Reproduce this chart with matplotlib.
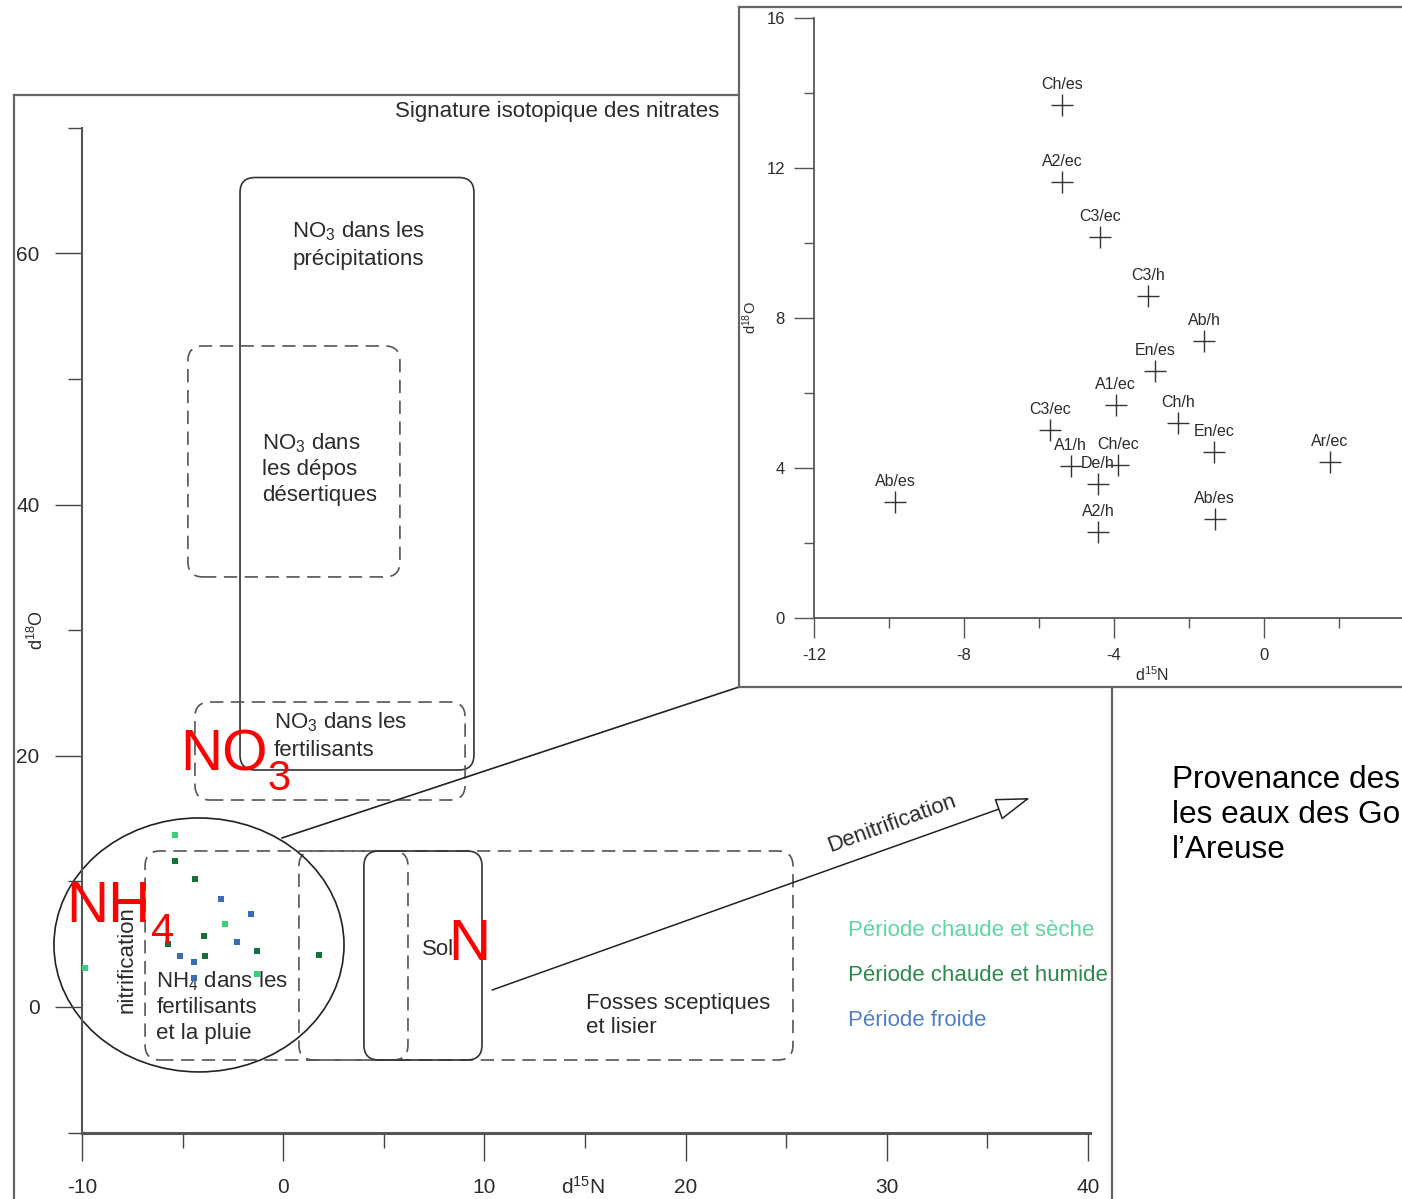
import matplotlib
matplotlib.use("Agg")
import matplotlib.pyplot as plt
from matplotlib.patches import FancyBboxPatch, Ellipse

plt.rcParams["font.family"] = ["Liberation Sans", "DejaVu Sans"]
plt.rcParams["mathtext.default"] = "regular"

W, H = 1402, 1199
INK = "#2b2b2b"
FRAME = "#666666"

# samples: site/period, d15N, d18O
SAMPLES = ["Ch/es", "A2/ec", "C3/ec", "C3/h", "Ab/h", "En/es", "A1/ec", "Ch/h", "C3/ec",
           "A1/h", "Ch/ec", "De/h", "En/ec", "Ar/ec", "Ab/es", "Ab/es", "A2/h"]
D15N = [-5.39, -5.39, -4.37, -3.09, -1.60, -2.91, -3.95, -2.29, -5.71,
        -5.15, -3.89, -4.43, -1.33, 1.76, -9.84, -1.31, -4.43]
D18O = [13.68, 11.63, 10.16, 8.59, 7.39, 6.59, 5.68, 5.20, 5.01,
        4.05, 4.08, 3.57, 4.43, 4.16, 3.09, 2.64, 2.29]

PERIODS = ["es", "ec", "h"]
PERIOD_COLORS = {"es": "#33d37c", "ec": "#16703a", "h": "#3a6db5"}
LEGEND_LABELS = ["Période chaude et sèche", "Période chaude et humide", "Période froide"]
LEGEND_COLORS = ["#5fd6a0", "#2a8a4c", "#4f7fc0"]

# main diagram axes
X_MAJOR = [-10, 0, 10, 20, 30, 40]
X_MINOR = [-5, 5, 15, 25, 35]
Y_MAJOR = [0, 20, 40, 60]
Y_MINOR = [-10, 10, 30, 50, 70]
# inset axes
IX_MAJOR = [-12, -8, -4, 0]
IX_MINOR = [-10, -6, -2, 2]
IY_MAJOR = [0, 4, 8, 12, 16]
IY_MINOR = [2, 6, 10, 14]

# source fields: (x0, y0, x1, y1) in d15N / d18O units, solid outline?
FIELDS = [
    ((-2.15, 18.87, 9.48, 66.04), True),
    ((-4.74, 34.24, 5.80, 52.63), False),
    ((-4.39, 16.48, 9.04, 24.28), False),
    ((-6.87, -4.22, 6.20, 12.42), False),
    ((0.78, -4.22, 25.34, 12.42), False),
    ((4.01, -4.22, 9.88, 12.42), True),
]


def fig_rect(x0, y0, x1, y1):
    return [x0 / W, 1 - y1 / H, (x1 - x0) / W, (y1 - y0) / H]


fig = plt.figure(figsize=(W / 100, H / 100), dpi=100)

# ---------------- main diagram ----------------
frame = fig.add_axes(fig_rect(14, 95, 1112, 1210))
frame.set_xticks([]); frame.set_yticks([])
for sp in frame.spines.values():
    sp.set_color(FRAME); sp.set_linewidth(1.6)
frame.set_zorder(0)

ax = fig.add_axes(fig_rect(14, 95, 1112, 1210))
ax.set_zorder(1)
ax.patch.set_visible(False)
ax.set_xlim(-13.386, 41.2)
ax.set_ylim((1007 - 1210) / 12.56, 72.61)
ax.spines["top"].set_visible(False)
ax.spines["right"].set_visible(False)
ax.spines["left"].set_position(("data", -10))
ax.spines["left"].set_bounds(-10, 70)
ax.spines["bottom"].set_position(("data", -10))
ax.spines["bottom"].set_bounds(-10, 40.1)
ax.spines["left"].set_color("#555"); ax.spines["left"].set_linewidth(1.5)
ax.spines["bottom"].set_color("#555"); ax.spines["bottom"].set_linewidth(2.2)
ax.set_xticks(X_MAJOR)
ax.set_xticks(X_MINOR, minor=True)
ax.set_yticks(Y_MAJOR)
ax.set_yticks(Y_MINOR, minor=True)
ax.set_xticklabels([str(v) for v in X_MAJOR])
ax.set_yticklabels([str(v) for v in Y_MAJOR])
ax.tick_params(axis="x", which="major", direction="out", length=20, width=1, pad=13,
               labelsize=15, colors="#444", labelcolor=INK)
ax.tick_params(axis="x", which="minor", direction="out", length=10.5, width=1, colors="#444")
ax.tick_params(axis="y", which="major", direction="out", length=19.5, width=1, pad=11,
               labelsize=15, colors="#444", labelcolor=INK)
ax.tick_params(axis="y", which="minor", direction="out", length=10, width=1, colors="#444")

ax.text(14.9, -14.3, "d$^{15}$N", ha="center", va="center", fontsize=15, color=INK)
ax.text(-12.24, 30.0, "d$^{18}$O", ha="center", va="center", fontsize=13, color=INK,
        rotation=90)
ax.text(13.61, 71.3, "Signature isotopique des nitrates", ha="center", va="center",
        fontsize=16, color=INK)

for (x0, y0, x1, y1), solid in FIELDS:
    box = FancyBboxPatch((x0, y0), x1 - x0, y1 - y0,
                         boxstyle="round,pad=0,rounding_size=0.75",
                         mutation_aspect=1.6, fill=False,
                         ec="#333" if solid else "#555",
                         lw=1.2, ls="-" if solid else (0, (8, 4.5)))
    ax.add_patch(box)

ax.add_patch(Ellipse((-4.19, 4.94), 14.42, 20.22, fill=False, ec="#222", lw=1.2))

txt = dict(fontsize=16, color=INK, linespacing=1.38)
ax.text(3.72, 60.71, "NO$_3$ dans les\nprécipitations", ha="center", va="center", **txt)
ax.text(-1.06, 42.88, "NO$_3$ dans\nles dépos\ndésertiques", ha="left", va="center",
        fontsize=16, color=INK, linespacing=1.28)
ax.text(-0.46, 21.62, "NO$_3$ dans les\nfertilisants", ha="left", va="center", **txt)
ax.text(-6.32, 0.04, "NH$_4$ dans les\nfertilisants\net la pluie", ha="left", va="center",
        fontsize=16, color=INK, linespacing=1.28)
ax.text(-7.76, 3.74, "nitrification", ha="center", va="center", rotation=90,
        fontsize=16, color=INK)
ax.text(6.9, 4.54, "Sol", ha="left", va="center", fontsize=16, color=INK)
ax.text(15.05, -0.68, "Fosses sceptiques\net lisier", ha="left", va="center",
        fontsize=16, color=INK, linespacing=1.22)

for per in PERIODS:
    xs = [x for n, x in zip(SAMPLES, D15N) if n.split("/")[1] == per]
    ys = [y for n, y in zip(SAMPLES, D18O) if n.split("/")[1] == per]
    ax.scatter(xs, ys, marker="s", s=20, color=PERIOD_COLORS[per], lw=0, zorder=5)

for i, (lab, col) in enumerate(zip(LEGEND_LABELS, LEGEND_COLORS)):
    ax.text(28.08, 6.12 - 3.6 * i, lab, ha="left", va="center", fontsize=16, color=col)

# link from the sample cluster to the inset
ax.plot([-0.06, 22.66], [13.46, 25.48], color="#222", lw=1.2)

ax.annotate("", xy=(37.12, 16.64), xytext=(10.38, 1.35),
            arrowprops=dict(arrowstyle="-|>,head_length=1.1,head_width=0.36",
                            mutation_scale=20, fc="white", ec="#222", lw=1.1,
                            shrinkA=0, shrinkB=0))
ax.text(30.25, 14.63, "Denitrification", ha="center", va="center", rotation=20,
        rotation_mode="anchor", fontsize=16, color=INK)

red = dict(color="#ff0000", ha="left", va="baseline", clip_on=False, zorder=10)
ax.text(-5.1, 18.79, "NO", fontsize=42, **red)
ax.text(-0.8, 17.28, "3", fontsize=30, **red)
ax.text(-10.8, 6.77, "NH", fontsize=42, **red)
ax.text(-6.6, 5.10, "4", fontsize=30, **red)
ax.text(8.2, 3.74, "N", fontsize=42, **red)

fig.text(1172 / W, 1 - 815 / H, "Provenance des\nles eaux des Go\nl\u2019Areuse",
         ha="left", va="center", fontsize=22.7, color="black", linespacing=1.2)

# ---------------- inset: zoom on the samples ----------------
iframe = fig.add_axes(fig_rect(739, 7, 1420, 687))
iframe.set_zorder(3)
iframe.set_facecolor("white")
iframe.set_xticks([]); iframe.set_yticks([])
for sp in iframe.spines.values():
    sp.set_color(FRAME); sp.set_linewidth(1.6)

iax = fig.add_axes(fig_rect(739, 7, 1420, 687))
iax.set_zorder(4)
iax.patch.set_visible(False)
iax.set_xlim(-14.0, 4.16)
iax.set_ylim(-1.84, 16.29)
iax.spines["top"].set_visible(False)
iax.spines["right"].set_visible(False)
iax.spines["left"].set_position(("data", -12))
iax.spines["left"].set_bounds(0, 16)
iax.spines["bottom"].set_position(("data", 0))
iax.spines["bottom"].set_bounds(-12, 4.16)
for side in ("left", "bottom"):
    iax.spines[side].set_color("#555"); iax.spines[side].set_linewidth(1.3)
iax.set_xticks(IX_MAJOR)
iax.set_xticks(IX_MINOR, minor=True)
iax.set_yticks(IY_MAJOR)
iax.set_yticks(IY_MINOR, minor=True)
iax.set_xticklabels([str(v) for v in IX_MAJOR])
iax.set_yticklabels([str(v) for v in IY_MAJOR])
iax.tick_params(which="major", direction="out", length=14.4, width=1, labelsize=12,
                colors="#555", labelcolor=INK)
iax.tick_params(which="minor", direction="out", length=7.2, width=1, colors="#555")
iax.tick_params(axis="x", pad=7)
iax.tick_params(axis="y", pad=6.5)
iax.text(-2.99, -1.52, "d$^{15}$N", ha="center", va="center", fontsize=11.5, color=INK)
iax.text(-13.71, 8.0, "d$^{18}$O", ha="center", va="center", fontsize=10.5, color=INK,
         rotation=90)

iax.plot(D15N, D18O, linestyle="none", marker="+", ms=16, mew=1, color="#333")
for name, x, y in zip(SAMPLES, D15N, D18O):
    iax.annotate(name, (x, y), xytext=(0, 14.5), textcoords="offset points",
                 ha="center", va="center", fontsize=11.5, color=INK)

fig.savefig("out.png", dpi=100)
